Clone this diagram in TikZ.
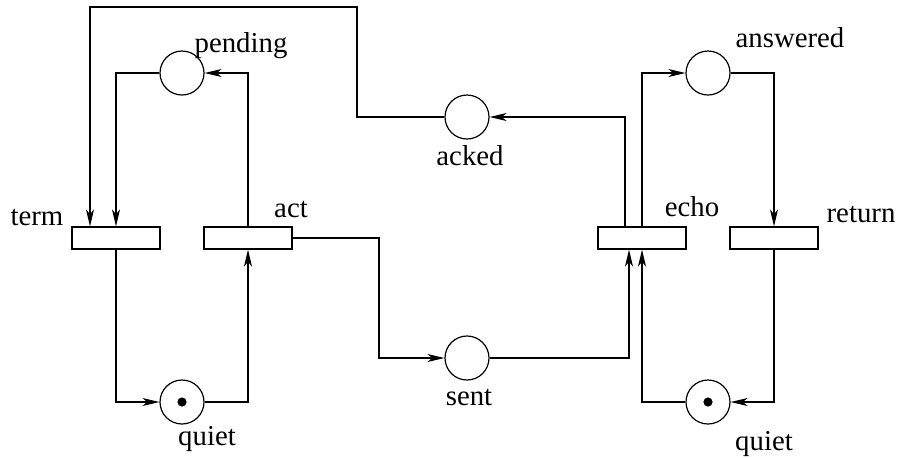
\documentclass[tikz,border=0pt]{standalone}
\usepackage{fontspec}
\setmainfont{Liberation Serif}
\usetikzlibrary{arrows.meta}
\begin{document}
\begin{tikzpicture}[x=0.5pt,y=-0.5pt,
  place/.style={circle,draw,line width=0.6pt,minimum size=22pt,inner sep=0pt},
  trans/.style={rectangle,draw,line width=0.6pt,minimum width=44pt,minimum height=11pt,inner sep=0pt},
  arc/.style={line width=0.6pt,-{Stealth[length=8.5pt,width=4pt,inset=2.4pt]}},
  lbl/.style={anchor=base,inner sep=0pt,font=\fontsize{14.4pt}{16pt}\selectfont},
  tok/.style={circle,fill,inner sep=0pt,minimum size=4.6pt}]
\useasboundingbox (0,0) rectangle (898,457);
% places
\node[place] (pending) at (182,73) {};
\node[place] (acked) at (467,117) {};
\node[place] (answered) at (708,73) {};
\node[place] (sent) at (467,358) {};
\node[place] (quietL) at (182,402) {};
\node[place] (quietR) at (708,402) {};
\node[tok] (tokL) at (quietL) {};
\node[tok] (tokR) at (quietR) {};
% transitions
\node[trans] (term) at (116,238) {};
\node[trans] (act) at (248,238) {};
\node[trans] (echo) at (642,238) {};
\node[trans] (return) at (774,238) {};
% labels
\node[lbl] (lpending) at (241,52) {pending};
\node[lbl] (lanswered) at (790,47) {answered};
\node[lbl] (lact) at (291,217) {act};
\node[lbl] (lterm) at (37,225) {term};
\node[lbl] (lecho) at (692,216) {echo};
\node[lbl] (lreturn) at (861,222) {return};
\node[lbl] (lacked) at (470,165) {acked};
\node[lbl] (lsent) at (469,405) {sent};
\node[lbl] (lquietL) at (207,445) {quiet};
\node[lbl] (lquietR) at (764,450) {quiet};
% helper coordinates
\coordinate (c1) at (357,7);
\coordinate (c2) at (90,7);
\coordinate (xA) at (625,0);
\coordinate (xS) at (629,0);
\coordinate (xT) at (379,0);
% arcs
\draw[arc] (pending.west) -| (term.north);
\draw[arc] (act.north) |- (pending.east);
\draw[arc] (acked.west) -| (c1) -- (c2) -- (c2 |- term.north);
\draw[arc] (term.south) |- (quietL.west);
\draw[arc] (quietL.east) -| (act.south);
\draw[arc] (act.east) -- (act.east -| xT) |- (sent.west);
\draw[arc] (sent.east) -| (xS |- echo.south);
\draw[arc] (quietR.west) -| (echo.south);
\draw[arc] (xA |- echo.north) |- (acked.east);
\draw[arc] (echo.north) |- (answered.west);
\draw[arc] (answered.east) -| (return.north);
\draw[arc] (return.south) |- (quietR.east);
\end{tikzpicture}
\end{document}
